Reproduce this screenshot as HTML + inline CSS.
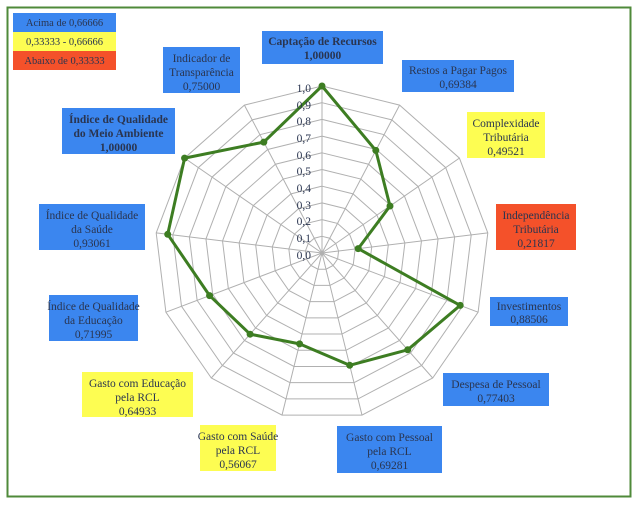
<!DOCTYPE html>
<html><head><meta charset="utf-8"><style>
body{margin:0;background:#fff;}
text{font-family:"Liberation Serif","Times New Roman",serif !important;font-size:11.5px;fill:#2a3550;}
</style></head><body>
<svg width="638" height="502" viewBox="0 0 638 502" xmlns="http://www.w3.org/2000/svg" font-family="Liberation Serif, serif">
<rect x="7.5" y="7.5" width="623" height="489" fill="#fff" stroke="#4f8a3a" stroke-width="2"/>
<g transform="translate(322,253)" fill="none" stroke="#b0b0b0" stroke-width="1">
<defs><polygon id="p" points="0,-167 77.6,-147.9 137.4,-94.9 165.8,-20.1 156.1,59.2 110.7,125 40,162.1 -40,162.1 -110.7,125 -156.1,59.2 -165.8,-20.1 -137.4,-94.9 -77.6,-147.9"/></defs>
<use href="#p" transform="scale(0.1)" style="stroke-width:10"/>
<use href="#p" transform="scale(0.2)" style="stroke-width:5"/>
<use href="#p" transform="scale(0.3)" style="stroke-width:3.33"/>
<use href="#p" transform="scale(0.4)" style="stroke-width:2.5"/>
<use href="#p" transform="scale(0.5)" style="stroke-width:2"/>
<use href="#p" transform="scale(0.6)" style="stroke-width:1.667"/>
<use href="#p" transform="scale(0.7)" style="stroke-width:1.43"/>
<use href="#p" transform="scale(0.8)" style="stroke-width:1.25"/>
<use href="#p" transform="scale(0.9)" style="stroke-width:1.11"/>
<use href="#p"/>
<path d="M0,0L0,-167M0,0L77.6,-147.9M0,0L137.4,-94.9M0,0L165.8,-20.1M0,0L156.1,59.2M0,0L110.7,125M0,0L40,162.1M0,0L-40,162.1M0,0L-110.7,125M0,0L-156.1,59.2M0,0L-165.8,-20.1M0,0L-137.4,-94.9M0,0L-77.6,-147.9"/>
<polygon points="0,-167 53.8,-102.6 68,-47 36.2,-4.4 138.2,52.4 85.7,96.8 27.7,112.3 -22.4,90.9 -71.9,81.2 -112.4,42.6 -154.3,-18.7 -137.4,-94.9 -58.2,-110.9" stroke="#3d7d22" stroke-width="3" stroke-linejoin="round"/>
<g fill="#3d7d22" stroke="none">
<circle cx="0" cy="-167" r="3.5"/><circle cx="53.8" cy="-102.6" r="3.5"/><circle cx="68" cy="-47" r="3.5"/><circle cx="36.2" cy="-4.4" r="3.5"/><circle cx="138.2" cy="52.4" r="3.5"/><circle cx="85.7" cy="96.8" r="3.5"/><circle cx="27.7" cy="112.3" r="3.5"/><circle cx="-22.4" cy="90.9" r="3.5"/><circle cx="-71.9" cy="81.2" r="3.5"/><circle cx="-112.4" cy="42.6" r="3.5"/><circle cx="-154.3" cy="-18.7" r="3.5"/><circle cx="-137.4" cy="-94.9" r="3.5"/><circle cx="-58.2" cy="-110.9" r="3.5"/>
</g>
</g>
<g text-anchor="end">
<text x="311" y="92">1,0</text><text x="311" y="109">0,9</text><text x="311" y="125">0,8</text><text x="311" y="142">0,7</text><text x="311" y="159">0,6</text><text x="311" y="175">0,5</text><text x="311" y="192">0,4</text><text x="311" y="209">0,3</text><text x="311" y="225">0,2</text><text x="311" y="242">0,1</text><text x="311" y="259">0,0</text>
</g>
<rect x="13" y="13" width="103" height="19" fill="#3b86ef"/>
<rect x="13" y="32" width="103" height="19" fill="#fdfd52"/>
<rect x="13" y="51" width="103" height="19" fill="#f4512a"/>
<g text-anchor="middle">
<text x="64.5" y="26" style="font-size:10.5px">Acima de 0,66666</text>
<text x="64.5" y="45" style="font-size:10.5px">0,33333 - 0,66666</text>
<text x="64.5" y="64" style="font-size:10.5px">Abaixo de 0,33333</text>
</g>
<g text-anchor="middle">
<rect x="262" y="31" width="121" height="33" fill="#3b86ef"/>
<text x="322.5" y="45" font-weight="bold">Captação de Recursos</text><text x="322.5" y="59" font-weight="bold">1,00000</text>
<rect x="402" y="60" width="112" height="32" fill="#3b86ef"/>
<text x="458" y="74">Restos a Pagar Pagos</text><text x="458" y="88">0,69384</text>
<rect x="467" y="112" width="78" height="46" fill="#fdfd52"/>
<text x="506" y="127">Complexidade</text><text x="506" y="141">Tributária</text><text x="506" y="155">0,49521</text>
<rect x="496" y="204" width="80" height="46" fill="#f4512a"/>
<text x="536" y="219">Independência</text><text x="536" y="233">Tributária</text><text x="536" y="247">0,21817</text>
<rect x="490" y="297" width="78" height="29" fill="#3b86ef"/>
<text x="529" y="310">Investimentos</text><text x="529" y="323">0,88506</text>
<rect x="443" y="373" width="106" height="33" fill="#3b86ef"/>
<text x="496" y="388">Despesa de Pessoal</text><text x="496" y="402">0,77403</text>
<rect x="337" y="426" width="105" height="47" fill="#3b86ef"/>
<text x="389.5" y="441">Gasto com Pessoal</text><text x="389.5" y="455">pela RCL</text><text x="389.5" y="469">0,69281</text>
<rect x="200" y="425" width="76" height="46" fill="#fdfd52"/>
<text x="238" y="440">Gasto com Saúde</text><text x="238" y="454">pela RCL</text><text x="238" y="468">0,56067</text>
<rect x="82" y="372" width="111" height="45" fill="#fdfd52"/>
<text x="137.5" y="387">Gasto com Educação</text><text x="137.5" y="401">pela RCL</text><text x="137.5" y="415">0,64933</text>
<rect x="49" y="295" width="89" height="46" fill="#3b86ef"/>
<text x="93.5" y="310">Índice de Qualidade</text><text x="93.5" y="324">da Educação</text><text x="93.5" y="338">0,71995</text>
<rect x="39" y="204" width="106" height="46" fill="#3b86ef"/>
<text x="92" y="219">Índice de Qualidade</text><text x="92" y="233">da Saúde</text><text x="92" y="247">0,93061</text>
<rect x="62" y="108" width="113" height="46" fill="#3b86ef"/>
<text x="118.5" y="123" font-weight="bold">Índice de Qualidade</text><text x="118.5" y="137" font-weight="bold">do Meio Ambiente</text><text x="118.5" y="151" font-weight="bold">1,00000</text>
<rect x="163" y="47" width="77" height="46" fill="#3b86ef"/>
<text x="201.5" y="62">Indicador de</text><text x="201.5" y="76">Transparência</text><text x="201.5" y="90">0,75000</text>
</g>
</svg>
</body></html>
